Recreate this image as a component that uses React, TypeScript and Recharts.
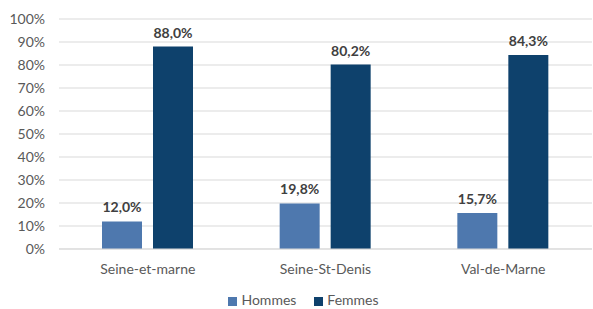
import React from "react";
import { BarChart, Bar, XAxis, YAxis, CartesianGrid, Legend, LabelList } from "recharts";

const categories = ["Seine-et-marne", "Seine-St-Denis", "Val-de-Marne"];
const hommes = [12.0, 19.8, 15.7];
const femmes = [88.0, 80.2, 84.3];
const yTicks = [0, 10, 20, 30, 40, 50, 60, 70, 80, 90, 100];
const seriesOrder = ["Hommes", "Femmes"];

const data = categories.map((c, i) => ({ name: c, Hommes: hommes[i], Femmes: femmes[i] }));

const FONT = "Lato, 'Open Sans', sans-serif";
const fmt = (v: any) => `${Number(v).toFixed(1).replace(".", ",")}%`;

export default function App() {
  return (
    <div style={{ position: "absolute", left: 0, top: 0, background: "#fff" }}>
      <BarChart
        width={593}
        height={309}
        data={data}
        margin={{ top: 19, right: 1, bottom: 0, left: 1 }}
        barSize={40}
        barGap={11}
        style={{ fontFamily: FONT }}
      >
        <CartesianGrid vertical={false} stroke="#d9d9d9" />
        <XAxis
          dataKey="name"
          height={42}
          tickLine={false}
          axisLine={{ stroke: "#d9d9d9" }}
          tickMargin={9}
          tick={{ fill: "#595959", fontSize: 14, fontFamily: FONT }}
        />
        <YAxis
          width={58}
          domain={[0, 100]}
          ticks={yTicks}
          interval={0}
          tickFormatter={(v: number) => `${v}%`}
          tickLine={false}
          axisLine={false}
          tickMargin={8}
          tick={{ fill: "#595959", fontSize: 14, fontFamily: FONT }}
        />
        <Legend
          verticalAlign="bottom"
          height={18}
          iconType="square"
          iconSize={9}
          itemSorter={(item: any) => seriesOrder.indexOf(item.value)}
          wrapperStyle={{ fontFamily: FONT, fontSize: 14, color: "#595959", paddingLeft: 16 }}
          formatter={(v: string) => <span style={{ color: "#595959", marginRight: 8 }}>{v}</span>}
        />
        <Bar dataKey="Hommes" fill="#4E78AE" isAnimationActive={false}>
          <LabelList dataKey="Hommes" position="top" offset={9} formatter={fmt} style={{ fill: "#404040", fontWeight: 700, fontSize: 14, fontFamily: FONT }} />
        </Bar>
        <Bar dataKey="Femmes" fill="#0E416C" isAnimationActive={false}>
          <LabelList dataKey="Femmes" position="top" offset={9} formatter={fmt} style={{ fill: "#404040", fontWeight: 700, fontSize: 14, fontFamily: FONT }} />
        </Bar>
      </BarChart>
    </div>
  );
}
